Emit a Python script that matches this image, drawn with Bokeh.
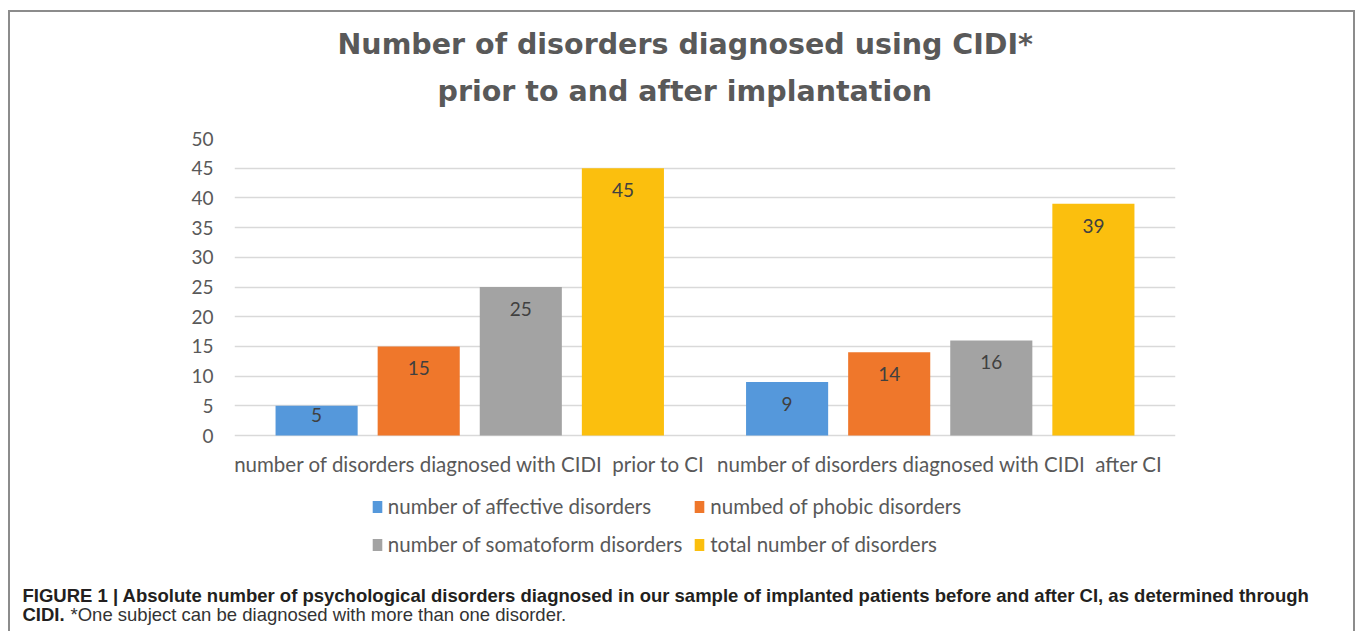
from bokeh.plotting import figure
from bokeh.models import (FactorRange, Range1d, ColumnDataSource, Legend, LegendItem,
                          FixedTicker, Title)
from bokeh.transform import dodge
from bokeh.core.properties import value
from bokeh.embed import file_html
from bokeh.resources import INLINE

# ---------------- data ----------------
categories = ["number of disorders diagnosed with CIDI\u00a0 prior to CI",
              "number of disorders diagnosed with CIDI\u00a0 after CI"]
series_keys = ["affective", "phobic", "somatoform", "total"]
series_names = ["number of affective disorders", "numbed of phobic disorders",
                "number of somatoform disorders", "total number of disorders"]
affective = [5, 9]
phobic = [15, 14]
somatoform = [25, 16]
total = [45, 39]
y_ticks = [0, 5, 10, 15, 20, 25, 30, 35, 40, 45, 50]
title_lines = ["Number of disorders diagnosed using CIDI*",
               "prior to and after implantation"]
caption_bold_1 = ("FIGURE 1 | Absolute number of psychological disorders diagnosed in our sample "
                  "of implanted patients before and after CI, as determined through")
caption_bold_2 = "CIDI."
caption_normal_2 = "*One subject can be diagnosed with more than one disorder."

colors = ["#5598db", "#ef772b", "#a3a3a3", "#fbbf0e"]

# ---------------- geometry (px) ----------------
W, H = 1356, 631
FL, FR, FT, FB = 234, 1175, 138, 575      # frame edges; legend lives inside frame
ZERO_Y = 435                              # pixel row of value 0
Y_MAX = 50
px_per_unit = (ZERO_Y - FT) / Y_MAX
y_start = -(FB - ZERO_Y) / px_per_unit

border = "linear-gradient(#8c8c8c,#8c8c8c)"
p = figure(x_range=FactorRange(factors=categories, range_padding=0),
           y_range=Range1d(y_start, Y_MAX), width=W, height=H, title=None,
           output_backend="svg", toolbar_location=None,
           min_border_left=FL, min_border_right=W - FR,
           min_border_top=FT, min_border_bottom=H - FB,
           styles={"background": (f"{border} 8px 10px / 2px 800px no-repeat, "
                                  f"{border} 8px 10px / 1347px 2px no-repeat, "
                                  f"{border} 1353px 10px / 2px 800px no-repeat")})
p.outline_line_color = None
p.background_fill_alpha = 0
p.border_fill_alpha = 0

data = dict(cat=categories, affective=affective, phobic=phobic,
            somatoform=somatoform, total=total)
for k, vals in zip(series_keys, [affective, phobic, somatoform, total]):
    data[k + "_txt"] = [str(v) for v in vals]
    # labels sit inside the bar end; short bars get their label pulled up
    data[k + "_off"] = [min(22.0, v * px_per_unit - 21.0) for v in vals]
source = ColumnDataSource(data)

pitch = 0.217
bar_w = 0.1745
offsets = [-1.5 * pitch, -0.5 * pitch, 0.5 * pitch, 1.5 * pitch]

renderers = []
for k, c, off in zip(series_keys, colors, offsets):
    r = p.vbar(x=dodge("cat", off, range=p.x_range), top=k, bottom=0, width=bar_w,
               source=source, fill_color=c, line_color=None)
    renderers.append(r)
    p.text(x=dodge("cat", off, range=p.x_range), y=k, text=k + "_txt", source=source,
           text_align="center", text_baseline="middle", y_offset=k + "_off",
           text_font=value("Lato"), text_font_size="19px", text_color="#404040")

# axes
p.yaxis.ticker = FixedTicker(ticks=y_ticks)
p.xaxis.fixed_location = 0
for ax in (p.yaxis, p.xaxis):
    ax.axis_line_color = None
    ax.major_tick_line_color = None
    ax.minor_tick_line_color = None
    ax.major_tick_out = 0
    ax.major_tick_in = 0
    ax.major_label_text_font = "Lato"
    ax.major_label_text_color = "#595959"
p.yaxis.major_label_text_font_size = "19px"
p.yaxis.major_label_standoff = 21
p.xaxis.major_label_text_font_size = "20.5px"
p.xaxis.major_label_standoff = 16

p.ygrid.grid_line_color = "#d9d9d9"
p.ygrid.grid_line_width = 1.5
p.xgrid.grid_line_color = None

# legend (inside the frame, under the category labels)
legend = Legend(items=[LegendItem(label=n, renderers=[r]) for n, r in zip(series_names, renderers)],
                location=(136.8, 17.5), orientation="horizontal", ncols=2,
                padding=0, spacing=11, margin=0,
                glyph_width=12, glyph_height=15, label_height=27, label_standoff=5,
                border_line_color=None, background_fill_alpha=0,
                label_text_font="Lato", label_text_font_size="20.5px",
                label_text_color="#595959", label_text_baseline="alphabetic")
p.add_layout(legend)

# ---------------- above: title lines ----------------
p.add_layout(Title(text=" ", text_font_size="10px", standoff=17.5), "above")   # spacer
p.add_layout(Title(text=title_lines[1], align="left", offset=203, standoff=0,
                   text_font="DejaVu Sans", text_font_style="bold",
                   text_font_size="28.5px", text_color="#595959"), "above")
p.add_layout(Title(text=title_lines[0], align="left", offset=103, standoff=24,
                   text_font="DejaVu Sans", text_font_style="bold",
                   text_font_size="28.5px", text_color="#595959"), "above")

# ---------------- below: caption ----------------
cap_font = dict(text_font="Liberation Sans", text_font_size="18.5px")
p.add_layout(Title(text=caption_bold_1, align="left", offset=22 - FL, standoff=15,
                   text_font_style="bold", text_color="#231f20", **cap_font), "below")
p.add_layout(Title(text=caption_bold_2, align="left", offset=22 - FL, standoff=-23,
                   text_font_style="bold", text_color="#231f20", **cap_font), "below")
p.add_layout(Title(text=caption_normal_2, align="left", offset=70 - FL, standoff=-23,
                   text_font_style="normal", text_color="#333333", **cap_font), "below")

open("out.html", "w").write(file_html(p, INLINE))
